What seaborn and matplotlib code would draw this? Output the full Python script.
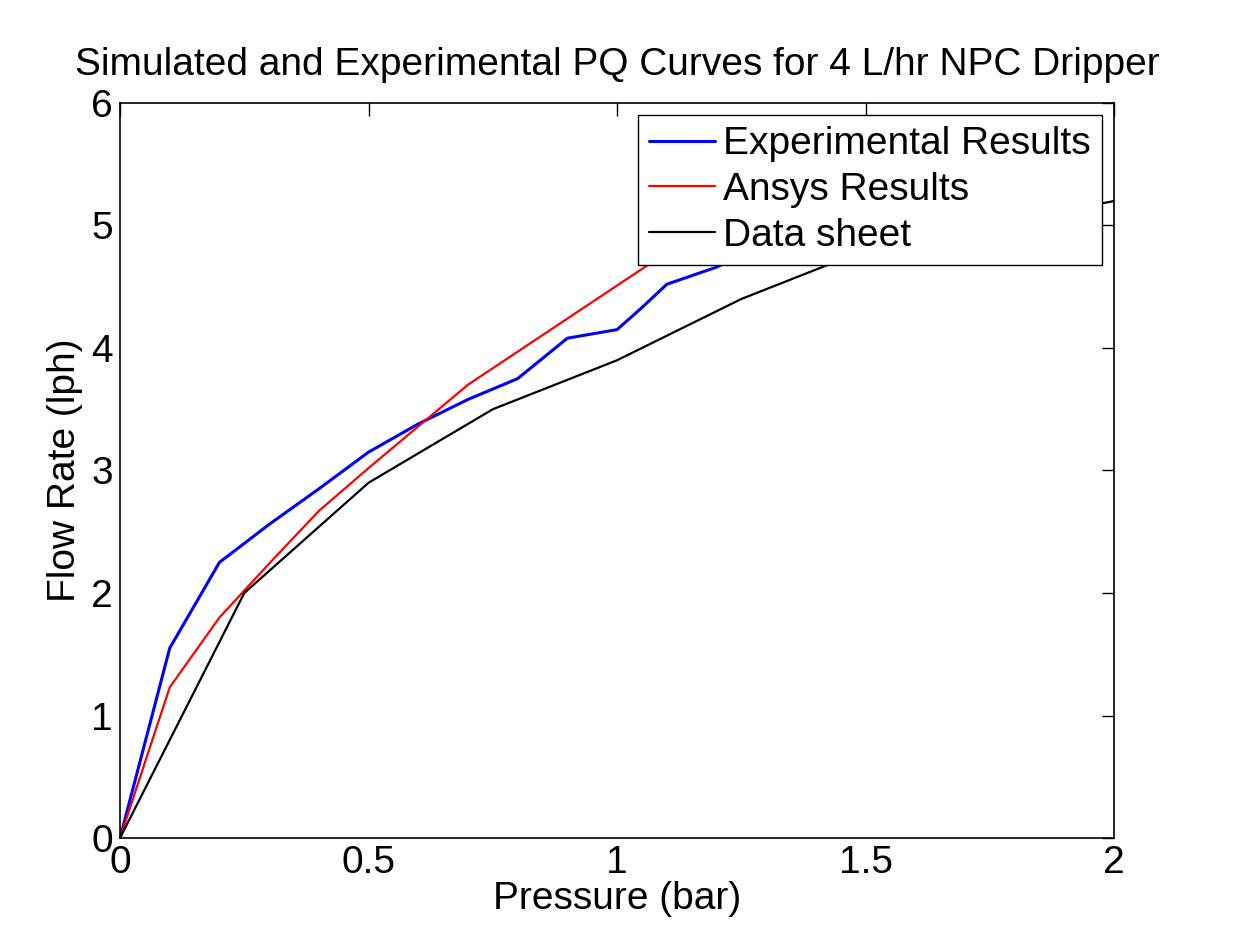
import numpy as np
import pandas as pd
import seaborn as sns
import matplotlib.pyplot as plt

# pressure (bar) / flow rate (lph)
exp_pressure = [0, 0.1, 0.2, 0.3, 0.4, 0.5, 0.6, 0.7, 0.8, 0.9, 1.0, 1.05, 1.1, 1.2, 1.3, 1.4, 1.5]
exp_flow = [0, 1.55, 2.25, 2.56, 2.85, 3.15, 3.38, 3.58, 3.75, 4.08, 4.15, 4.33, 4.52, 4.66, 4.85, 5.0, 5.1]

ansys_pressure = [0, 0.1, 0.2, 0.3, 0.4, 0.5, 0.6, 0.7, 0.8, 0.9, 1.0, 1.1, 1.2, 1.3, 1.4]
ansys_flow = [0, 1.23, 1.8, 2.24, 2.67, 3.02, 3.36, 3.7, 3.97, 4.24, 4.51, 4.78, 5.03, 5.25, 5.45]

sheet_pressure = [0, 0.25, 0.5, 0.75, 1.0, 1.25, 1.5, 1.75, 2.0]
sheet_flow = [0, 2.0, 2.9, 3.5, 3.9, 4.4, 4.8, 5.0, 5.2]

labels = ["Experimental Results", "Ansys Results", "Data sheet"]
colors = ["#0000ff", "#ff0000", "#000000"]
widths = [2.2, 1.6, 1.6]

df = pd.concat([
    pd.DataFrame({"Pressure": exp_pressure, "Flow": exp_flow, "Series": labels[0]}),
    pd.DataFrame({"Pressure": ansys_pressure, "Flow": ansys_flow, "Series": labels[1]}),
    pd.DataFrame({"Pressure": sheet_pressure, "Flow": sheet_flow, "Series": labels[2]}),
], ignore_index=True)

sns.set_theme(style="white")
plt.rcParams['font.family'] = ['Liberation Sans', 'DejaVu Sans']
plt.rcParams['text.color'] = 'black'
plt.rcParams['axes.labelcolor'] = 'black'

fig = plt.figure(figsize=(12.36, 9.27), dpi=100)
ax = fig.add_axes([0.0971, 0.0960, 0.8043, 0.7929])

for lab, col, lw in zip(labels, colors, widths):
    sub = df[df["Series"] == lab]
    sns.lineplot(data=sub, x="Pressure", y="Flow", color=col, linewidth=lw,
                 label=lab, ax=ax, sort=False, estimator=None)

ax.set_xlim(0, 2)
ax.set_ylim(0, 6)
ax.set_xticks([0, 0.5, 1, 1.5, 2])
ax.set_xticklabels(["0", "0.5", "1", "1.5", "2"])
ax.set_yticks(range(0, 7))
ax.tick_params(direction="in", length=9, width=1, top=True, right=True,
               labelsize=28, colors="black", pad=5)
for s in ax.spines.values():
    s.set_color("black")
    s.set_linewidth(1.2)

ax.set_xlabel("Pressure (bar)", fontsize=28, labelpad=0)
ax.set_ylabel("Flow Rate (lph)", fontsize=28, labelpad=6)
ax.set_title("Simulated and Experimental PQ Curves for 4 L/hr NPC Dripper",
             fontsize=28, pad=20)

leg = ax.legend(loc="upper right", fontsize=28, frameon=True, fancybox=False,
                edgecolor="black", framealpha=1, borderaxespad=0.3,
                handlelength=1.7, handletextpad=0.2, borderpad=0.3,
                labelspacing=0.25)
leg.get_frame().set_linewidth(1.0)

fig.savefig("out.png", dpi=100, facecolor="white")
